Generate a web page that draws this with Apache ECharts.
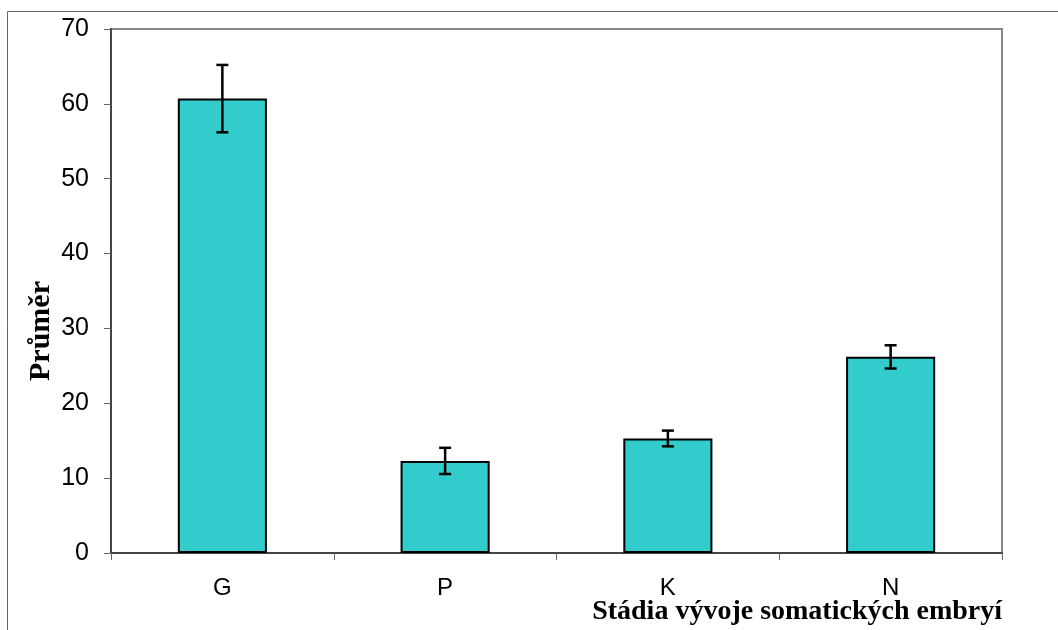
<!DOCTYPE html>
<html>
<head>
<meta charset="utf-8">
<script src="https://cdn.jsdelivr.net/npm/echarts@6/dist/echarts.min.js"></script>
<style>
html,body{margin:0;padding:0;background:#fff;}
#c{width:1058px;height:630px;}
</style>
</head>
<body>
<div id="c"></div>
<script>
var categories = ['G', 'P', 'K', 'N'];
var means = [60.7, 12.3, 15.3, 26.2];
var errors = [4.5, 1.75, 1.05, 1.55];
var yTicks = [0, 10, 20, 30, 40, 50, 60, 70];
var yName = 'Průměr';
var xName = 'Stádia vývoje somatických embryí';

var chart = echarts.init(document.getElementById('c'), null, {renderer: 'canvas'});
var errData = categories.map(function (c, i) { return [i, means[i] - errors[i], means[i] + errors[i]]; });

chart.setOption({
  animation: false,
  backgroundColor: '#fff',
  grid: {left: 111, top: 29, right: 56, bottom: 77, show: true, borderColor: '#888', borderWidth: 2, backgroundColor: 'transparent'},
  xAxis: {
    type: 'category',
    data: categories,
    axisLine: {lineStyle: {color: '#444', width: 2}},
    axisTick: {show: true, length: 7, lineStyle: {color: '#666', width: 1}},
    axisLabel: {color: '#000', fontFamily: 'Liberation Sans, Arial', fontSize: 24, margin: 23}
  },
  yAxis: {
    type: 'value',
    min: yTicks[0],
    max: yTicks[yTicks.length - 1],
    interval: 10,
    axisLine: {show: true, lineStyle: {color: '#444', width: 2}},
    axisTick: {show: true, length: 7, lineStyle: {color: '#666', width: 1}},
    splitLine: {show: false},
    axisLabel: {color: '#000', fontFamily: 'Liberation Sans, Arial', fontSize: 25, margin: 22}
  },
  graphic: [
    {type: 'rect', shape: {x: 7.5, y: 11.5, width: 1200, height: 800}, style: {fill: 'none', stroke: '#666', lineWidth: 1}, z: -1},
    {type: 'text', x: 41, y: 331, rotation: Math.PI / 2, style: {text: yName, font: 'bold 30px "Liberation Serif", "Times New Roman", serif', fill: '#000', align: 'center', verticalAlign: 'middle'}},
    {type: 'text', x: 1002, y: 612, style: {text: xName, font: 'bold 28px "Liberation Serif", "Times New Roman", serif', fill: '#000', align: 'right', verticalAlign: 'middle'}}
  ],
  series: [
    {
      type: 'bar',
      data: means,
      barWidth: '40%',
      itemStyle: {color: '#33CCCC', borderColor: '#000', borderWidth: 2},
      z: 2
    },
    {
      type: 'custom',
      data: errData,
      z: 3,
      renderItem: function (params, api) {
        var x = api.value(0);
        var lo = api.coord([x, api.value(1)]);
        var hi = api.coord([x, api.value(2)]);
        var hw = 6;
        var st = {stroke: '#000', lineWidth: 2.5};
        return {
          type: 'group',
          children: [
            {type: 'line', shape: {x1: hi[0], y1: hi[1], x2: lo[0], y2: lo[1]}, style: st},
            {type: 'line', shape: {x1: hi[0] - hw, y1: hi[1], x2: hi[0] + hw, y2: hi[1]}, style: st},
            {type: 'line', shape: {x1: lo[0] - hw, y1: lo[1], x2: lo[0] + hw, y2: lo[1]}, style: st}
          ]
        };
      }
    }
  ]
});
</script>
</body>
</html>
